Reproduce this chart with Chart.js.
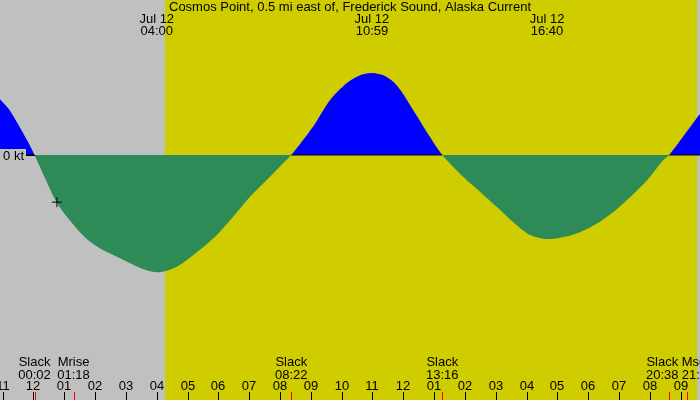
<!DOCTYPE html>
<html>
<head>
<meta charset="utf-8">
<script src="https://cdn.jsdelivr.net/npm/chart.js@4.4.1/dist/chart.umd.min.js"></script>
<style>
  html, body { margin: 0; padding: 0; background: #c0c0c0; }
  #wrap { width: 700px; height: 400px; }
</style>
</head>
<body>
<div id="wrap"><canvas id="tideChart" width="700" height="400"></canvas></div>
<script>
// current speed, hours after midnight Jul 12 vs knots (+ flood, - ebb)
const flowHours = [-1.09, -0.78, -0.455, -0.13, 0.033, 0.358, 0.748, 1.17, 1.658, 2.146, 2.796, 3.446, 4.0,
    4.42, 4.84, 5.40, 5.95, 6.47, 7.02, 7.57, 8.10, 8.367, 9.07, 9.62, 10.18, 10.58, 10.983, 11.41, 11.80,
    12.32, 12.87, 13.267, 13.95, 14.50, 15.05, 15.57, 16.12, 16.667, 17.20, 17.75, 18.30, 18.82, 19.37,
    19.92, 20.44, 20.633, 21.55, 21.65];
const flowKnots = [1.09, 0.88, 0.55, 0.2, 0, -0.43, -0.92, -1.27, -1.6, -1.82, -2.01, -2.2, -2.29,
    -2.24, -2.11, -1.85, -1.56, -1.21, -0.82, -0.49, -0.16, 0, 0.55, 1.07, 1.41, 1.55, 1.6, 1.54, 1.35,
    0.88, 0.35, 0, -0.43, -0.72, -1.02, -1.31, -1.56, -1.64, -1.6, -1.5, -1.33, -1.11, -0.82,
    -0.49, -0.1, 0, 0.74, 0.82];

const title = "Cosmos Point, 0.5 mi east of, Frederick Sound, Alaska Current";
const peakDate = "Jul 12";
const peakTimes = ["04:00", "10:59", "16:40"];
const eventNames = ["Slack", "Mrise", "Slack", "Slack", "Slack", "Mset"];
const eventTimes = ["00:02", "01:18", "08:22", "13:16", "20:38", "21:12"];
const sunrise = "04:16";
const sunset = "21:32";
const hourTicks = [-1, 0, 1, 2, 3, 4, 5, 6, 7, 8, 9, 10, 11, 12, 13, 14, 15, 16, 17, 18, 19, 20, 21];
const hourLabels = ["11", "12", "01", "02", "03", "04", "05", "06", "07", "08", "09", "10", "11",
    "12", "01", "02", "03", "04", "05", "06", "07", "08", "09"];
const nowHour = 0.76;
const nowKnots = -0.92;

const xMin = -1.087, xMax = 21.63;
const yMin = -4.78, yMax = 3.024;

function toHours(s) {
    var p = s.split(":");
    return Number(p[0]) + Number(p[1]) / 60;
}

const FONT = '13px "Liberation Sans", Arial, sans-serif';

const backdrop = {
    id: 'backdrop',
    beforeDraw(chart) {
        const c = chart.ctx, x = chart.scales.x;
        c.save();
        c.fillStyle = '#c0c0c0';
        c.fillRect(0, 0, chart.width, chart.height);
        const a = x.getPixelForValue(toHours(sunrise));
        const b = x.getPixelForValue(toHours(sunset));
        c.fillStyle = '#cfcc00';
        c.fillRect(a, 0, b - a, chart.height);
        c.restore();
    }
};

const labels = {
    id: 'labels',
    afterDraw(chart) {
        const c = chart.ctx, x = chart.scales.x, y = chart.scales.y;
        c.save();
        c.font = FONT;
        c.fillStyle = '#000';
        c.textBaseline = 'middle';
        c.textAlign = 'center';
        c.fillText(title, 350, 7);

        peakTimes.forEach(function (t) {
            const px = x.getPixelForValue(toHours(t));
            c.fillText(peakDate, px, 19);
            c.fillText(t, px, 31);
        });

        // 0 kt label
        const y0 = Math.round(y.getPixelForValue(0));
        c.fillStyle = '#c0c0c0';
        c.fillRect(0, y0 - 6, 26, 12);
        c.fillStyle = '#000';
        c.textAlign = 'right';
        c.fillText('0 kt', 24, y0 + 1);
        c.fillRect(26, y0, 9, 1);

        // hour ticks
        c.textAlign = 'center';
        hourTicks.forEach(function (h, i) {
            const px = Math.round(x.getPixelForValue(h));
            c.fillText(hourLabels[i], px, 386);
            c.fillRect(px, 392, 1, 8);
        });

        // events
        eventNames.forEach(function (n, i) {
            const px = x.getPixelForValue(toHours(eventTimes[i]));
            let cx = px;
            c.textAlign = 'center';
            if (i == eventNames.length - 2) cx = px - 7;
            if (i == eventNames.length - 1) { c.textAlign = 'left'; cx = px - 5; }
            c.fillStyle = '#000';
            c.fillText(n, cx, 362);
            c.fillText(eventTimes[i], cx, 375);
            c.fillStyle = '#ff0000';
            c.fillRect(Math.round(px), 392, 1, 8);
        });
        c.restore();
    }
};

const ctx = document.getElementById('tideChart').getContext('2d');

new Chart(ctx, {
    type: 'line',
    data: {
        datasets: [{
            label: 'Current',
            data: flowHours.map((h, i) => ({ x: h, y: flowKnots[i] })),
            borderWidth: 0,
            borderColor: 'rgba(0,0,0,0)',
            pointRadius: 0,
            tension: 0.3,
            order: 3,
            fill: { target: 'origin', above: '#0000ff', below: '#2e8b57' }
        }, {
            label: 'Zero',
            data: flowHours.map(h => ({ x: h, y: 0 })),
            borderWidth: 1,
            pointRadius: 0,
            order: 2,
            fill: false,
            segment: {
                borderColor: c => (flowKnots[c.p0DataIndex] + flowKnots[c.p1DataIndex] > 0 ? '#000' : 'rgba(0,0,0,0)')
            }
        }, {
            label: 'Now',
            data: [{ x: nowHour, y: nowKnots }],
            pointStyle: 'cross',
            pointRadius: 5,
            borderColor: '#000',
            borderWidth: 1,
            order: 1,
            showLine: false
        }]
    },
    options: {
        responsive: false,
        animation: false,
        layout: { padding: 0, autoPadding: false },
        plugins: { legend: { display: false }, tooltip: { enabled: false } },
        scales: {
            x: { type: 'linear', min: xMin, max: xMax, display: false },
            y: { type: 'linear', min: yMin, max: yMax, display: false }
        }
    },
    plugins: [backdrop, labels]
});
</script>
</body>
</html>
